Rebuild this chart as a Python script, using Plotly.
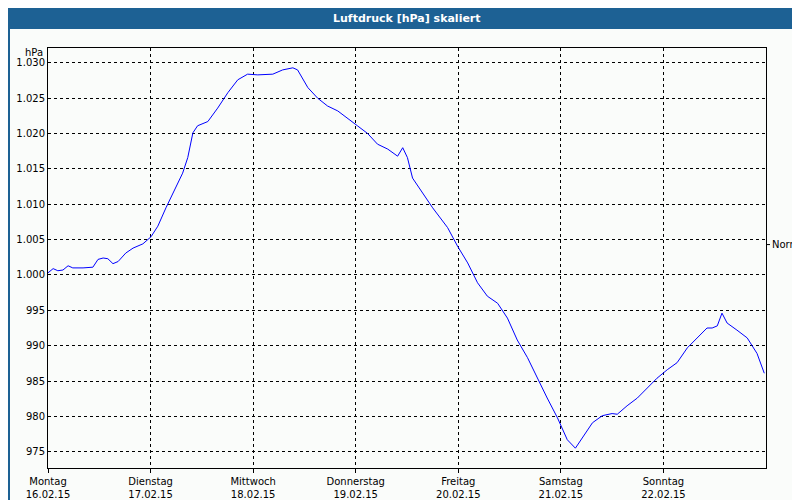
import plotly.graph_objects as go

hours = [0,1.2,2.3,3.5,4.7,5.8,8.2,10.5,11.7,12.9,14,15.2,16.4,18.2,19.9,22.2,24.1,25.7,27.6,29.2,31.5,32.7,33.9,35,37.4,39.7,42.1,44.4,46.7,49.1,52.6,54.9,57.3,58.4,60.8,63.1,65.4,67.8,70.1,72.4,74.8,77.1,79.5,81.8,83,84.1,85.3,87.6,90,93.5,95.8,98.2,100.5,102.8,105.2,107.5,109.8,112.2,114.5,116.8,119.2,121.5,123.4,125,127.4,129.7,132,133.2,135.5,137.9,140.2,142.5,144.9,147.2,149.6,151.9,154.2,155.4,156.6,157.7,158.9,161.2,163.6,165.9,167.6]
pressure = [1000.3,1000.9,1000.6,1000.7,1001.3,1001.0,1001.0,1001.1,1002.2,1002.4,1002.3,1001.6,1001.9,1003.1,1003.8,1004.4,1005.4,1006.9,1009.5,1011.6,1014.4,1016.6,1020.1,1021.1,1021.7,1023.6,1025.8,1027.6,1028.4,1028.3,1028.4,1029.0,1029.3,1029.0,1026.5,1025.0,1023.9,1023.2,1022.2,1021.1,1020.0,1018.5,1017.8,1016.8,1018.0,1016.6,1013.7,1011.6,1009.5,1006.7,1004.1,1001.7,998.9,997.0,996.0,993.9,990.8,988.3,985.4,982.6,979.8,976.7,975.5,977.0,979.1,980.1,980.4,980.3,981.5,982.6,984.0,985.4,986.6,987.6,989.7,991.1,992.5,992.5,992.8,994.6,993.2,992.2,991.1,988.9,986.1]
day_ticks = [0, 24, 48, 72, 96, 120, 144]
day_labels = ["Montag<br>16.02.15", "Dienstag<br>17.02.15", "Mittwoch<br>18.02.15", "Donnerstag<br>19.02.15",
              "Freitag<br>20.02.15", "Samstag<br>21.02.15", "Sonntag<br>22.02.15"]
y_ticks = [975, 980, 985, 990, 995, 1000, 1005, 1010, 1015, 1020, 1025, 1030]
y_labels = ["975", "980", "985", "990", "995", "1.000", "1.005", "1.010", "1.015", "1.020", "1.025", "1.030"]
normal_value = 1004.3

fig = go.Figure(go.Scatter(x=hours, y=pressure, mode="lines", line=dict(color="#0000ff", width=1), hoverinfo="skip"))
H = 420.0
W = 718.0
fig.update_layout(
    width=800, height=500, margin=dict(l=40, r=42, t=40, b=40, autoexpand=False),
    paper_bgcolor="#fafcfa", plot_bgcolor="#fafcfa", showlegend=False,
    font=dict(family="DejaVu Sans", size=10, color="black"),
    xaxis=dict(range=[0, 168], tickvals=day_ticks, ticktext=day_labels, showgrid=True, automargin=False,
               gridcolor="black", griddash="3px,3px", gridwidth=1, zeroline=False,
               showline=True, linecolor="black", mirror=True, ticks="outside", ticklen=4, tickcolor="black"),
    yaxis=dict(range=[972.7, 1032.1], tickvals=y_ticks, ticktext=y_labels, showgrid=True, automargin=False,
               gridcolor="black", griddash="3px,3px", gridwidth=1, zeroline=False,
               showline=True, linecolor="black", mirror=True, ticks=""),
    shapes=[
        dict(type="rect", xref="paper", yref="paper", x0=-40/W, x1=1+42/W, y0=1+20/H, y1=1+40/H,
             fillcolor="#1d6194", line=dict(width=0), layer="below"),
        dict(type="rect", xref="paper", yref="paper", x0=-39/W, x1=1+41/W, y0=-39/H, y1=1+20/H,
             fillcolor="rgba(0,0,0,0)", line=dict(color="#1d6194", width=2)),
        dict(type="line", xref="paper", yref="y", x0=1, x1=1+4/W, y0=normal_value, y1=normal_value,
             line=dict(color="black", width=1)),
    ],
    annotations=[
        dict(text="<b>Luftdruck [hPa] skaliert</b>", xref="paper", yref="paper", x=0.5, y=1+30/H,
             showarrow=False, font=dict(color="white", size=11), yanchor="middle"),
        dict(text="hPa", xref="paper", yref="paper", x=-3/W, y=1-5/H, xanchor="right", yanchor="middle",
             showarrow=False),
        dict(text="Normal", xref="paper", yref="y", x=1+4/W, y=normal_value, xanchor="left",
             yanchor="middle", showarrow=False),
    ],
)
fig.write_html("out.html")
